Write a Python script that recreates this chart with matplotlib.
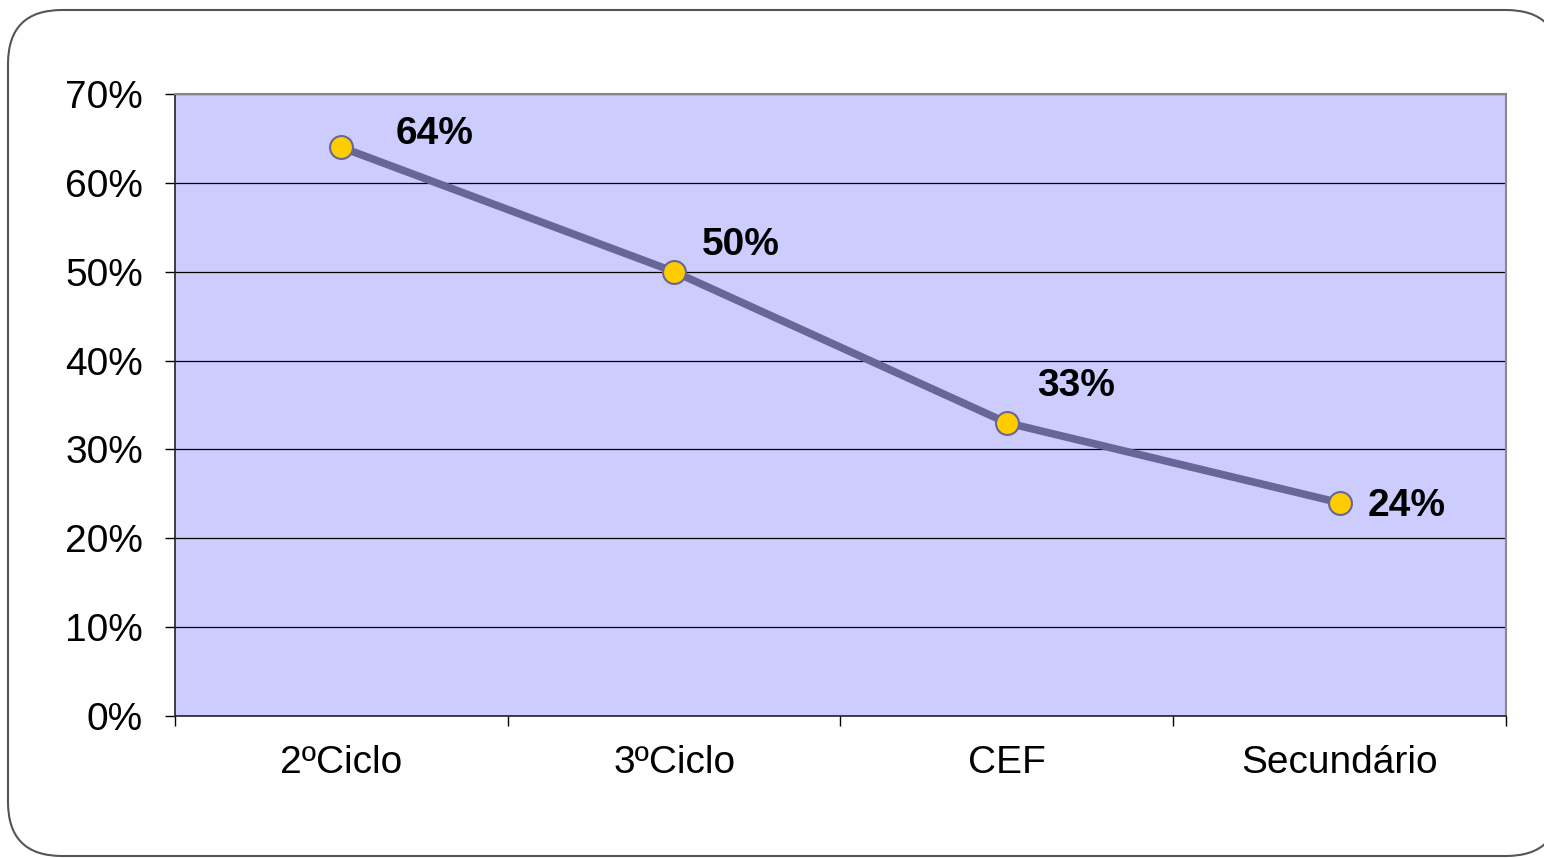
import matplotlib
matplotlib.use("Agg")
import matplotlib.pyplot as plt
from matplotlib.patches import FancyBboxPatch

categories = ["2ºCiclo", "3ºCiclo", "CEF", "Secundário"]
values = [64, 50, 33, 24]
labels = ["64%", "50%", "33%", "24%"]
yticks = [0, 10, 20, 30, 40, 50, 60, 70]
ytick_labels = ["0%", "10%", "20%", "30%", "40%", "50%", "60%", "70%"]
label_offsets = [(93, 13), (67, 27), (69, 37), (67, -3)]

plt.rcParams['font.family'] = ['Liberation Sans', 'DejaVu Sans']

W, H = 1544, 858
fig = plt.figure(figsize=(W / 100, H / 100), dpi=100)

box = FancyBboxPatch((8 / W, 2 / H), (1560 - 8) / W, (848 - 2) / H,
                     boxstyle="round,pad=0,rounding_size=0.035",
                     transform=fig.transFigure, facecolor="white",
                     edgecolor="#555555", linewidth=1.5, zorder=-10,
                     mutation_aspect=W / H)
fig.patches.append(box)

ax = fig.add_axes([175 / W, 1 - 716 / H, (1506 - 175) / W, (716 - 94) / H])
ax.set_facecolor("#CCCCFF")
x = list(range(len(categories)))
ax.plot(x, values, color="#666699", linewidth=5.5, zorder=3,
        marker="o", markersize=16.5, markerfacecolor="#FFCC00",
        markeredgecolor="#666699", markeredgewidth=1.5)
for xi, v, lab, off in zip(x, values, labels, label_offsets):
    ax.annotate(lab, (xi, v), xytext=(off[0] * 0.72, off[1] * 0.72),
                textcoords="offset points", ha="center", va="center",
                fontsize=28, fontweight="bold", color="black", zorder=4)

ax.set_xlim(-0.5, len(categories) - 0.5)
ax.set_ylim(0, 70)
ax.set_yticks(yticks)
ax.set_yticklabels(ytick_labels, fontsize=28)
ax.yaxis.grid(True, color="black", linewidth=0.9)
ax.set_axisbelow(True)
ax.set_xticks([i - 0.5 for i in range(len(categories) + 1)])
ax.set_xticklabels([])
ax.set_xticks(x, minor=True)
ax.set_xticklabels(categories, minor=True, fontsize=28)
ax.tick_params(axis="x", which="minor", length=0, pad=21)
ax.tick_params(axis="x", which="major", length=7, width=1, color="black")
ax.tick_params(axis="y", length=7, width=1, color="black", pad=16)
for s in ["left", "bottom"]:
    ax.spines[s].set_color("#222222")
    ax.spines[s].set_linewidth(1.2)
for s in ["top", "right"]:
    ax.spines[s].set_color("#888888")
    ax.spines[s].set_linewidth(1.5)

fig.savefig("out.png", dpi=100)
